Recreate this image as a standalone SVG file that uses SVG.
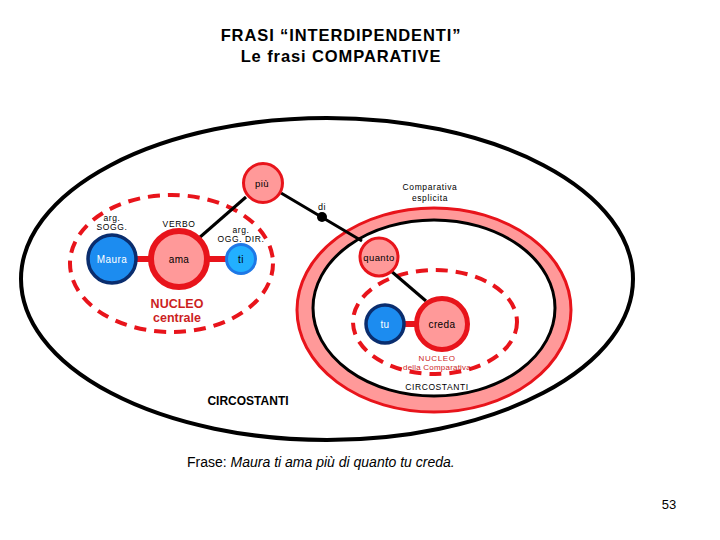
<svg xmlns="http://www.w3.org/2000/svg" width="720" height="540" viewBox="0 0 720 540">
<style>
text{font-family:"Liberation Sans",Arial,sans-serif;text-anchor:middle}
.s{font-size:8.5px;letter-spacing:0.6px;fill:#000}
.n{font-size:10px;letter-spacing:0.4px}
.t{font-size:16.5px;font-weight:bold;letter-spacing:0.9px}
.pink{fill:#FF9999;stroke:#E8141B}
.blue{fill:#1C8CF0;stroke:#0A2D6E;stroke-width:3.5}
.ln{stroke:#000;stroke-width:3;fill:none}
.bar{stroke:#E8141B;stroke-width:6}
.dash{fill:none;stroke:#E8141B;stroke-width:4;stroke-dasharray:12 8}
</style>
<rect width="720" height="540" fill="#fff"/>
<text x="341" y="41" class="t">FRASI “INTERDIPENDENTI”</text>
<text x="341" y="62" class="t">Le frasi COMPARATIVE</text>

<g id="circostanti">
<ellipse cx="327" cy="279" rx="306" ry="161" fill="none" stroke="#000" stroke-width="4"/>
<text x="248" y="405" style="font-size:12px;font-weight:bold">CIRCOSTANTI</text>
</g>

<g id="comparativa">
<ellipse cx="434" cy="310" rx="137" ry="102" class="pink" stroke-width="3"/>
<ellipse cx="434" cy="308" rx="121" ry="88" fill="#fff" stroke="#000" stroke-width="3"/>
<text x="430" y="190" class="s">Comparativa</text>
<text x="430" y="201" class="s">esplicita</text>
<text x="437" y="390" class="s">CIRCOSTANTI</text>
</g>

<g id="nucleo-centrale">
<ellipse cx="171.5" cy="263.5" rx="101.5" ry="68.5" class="dash"/>
<text x="177" y="308" style="font-size:12.5px;font-weight:bold;fill:#CC1F1F">NUCLEO</text>
<text x="177" y="322" style="font-size:12.5px;font-weight:bold;fill:#CC1F1F">centrale</text>
</g>

<g id="nucleo-comparativa">
<ellipse cx="435" cy="322" rx="82" ry="52" class="dash"/>
<text x="437" y="361" class="s" style="fill:#CC1F1F;font-size:8px">NUCLEO</text>
<text x="437" y="370" class="s" style="fill:#CC1F1F;font-size:8px;letter-spacing:0.2px">della Comparativa</text>
</g>

<g id="connectors">
<line x1="112" y1="259" x2="179" y2="259" class="bar"/>
<line x1="179" y1="259" x2="241" y2="259" class="bar"/>
<line x1="385" y1="324" x2="442" y2="324" class="bar"/>
<line x1="246" y1="197" x2="199" y2="238" class="ln"/>
<line x1="281" y1="193" x2="362" y2="241" class="ln"/>
<line x1="391" y1="271" x2="426" y2="301" class="ln" stroke-width="2.5"/>
<circle cx="322" cy="217" r="5" fill="#000"/>
<text x="322" y="210" class="s" style="font-size:9px">di</text>
</g>

<g id="node-piu">
<circle cx="263" cy="183" r="19.5" class="pink" stroke-width="3"/>
<text x="262" y="187" class="n" style="font-size:9.5px">più</text>
</g>

<g id="node-maura">
<circle cx="112" cy="259" r="24" class="blue"/>
<text x="112" y="263" class="n" style="fill:#fff">Maura</text>
<text x="112" y="221" class="s">arg.</text>
<text x="112" y="230" class="s">SOGG.</text>
</g>

<g id="node-ama">
<circle cx="179" cy="259" r="28" class="pink" stroke-width="6"/>
<text x="179" y="263" class="n">ama</text>
<text x="179" y="227" class="s">VERBO</text>
</g>

<g id="node-ti">
<circle cx="241" cy="259" r="14.5" fill="#22B0FF" stroke="#1E78E6" stroke-width="3"/>
<text x="241" y="263" class="n">ti</text>
<text x="241" y="233" class="s">arg.</text>
<text x="241" y="242" class="s">OGG. DIR.</text>
</g>

<g id="node-quanto">
<circle cx="379" cy="257" r="19" class="pink" stroke-width="3"/>
<text x="379" y="261" class="n" style="font-size:9.5px">quanto</text>
</g>

<g id="node-tu">
<circle cx="385" cy="324" r="19" class="blue"/>
<text x="385" y="328" class="n" style="fill:#fff">tu</text>
</g>

<g id="node-creda">
<circle cx="442" cy="324" r="25.5" class="pink" stroke-width="5"/>
<text x="442" y="328" class="n">creda</text>
</g>

<text x="187" y="467" style="font-size:14px;text-anchor:start">Frase: <tspan font-style="italic">Maura ti ama più di quanto tu creda.</tspan></text>
<text x="669" y="509" style="font-size:13px">53</text>
</svg>
